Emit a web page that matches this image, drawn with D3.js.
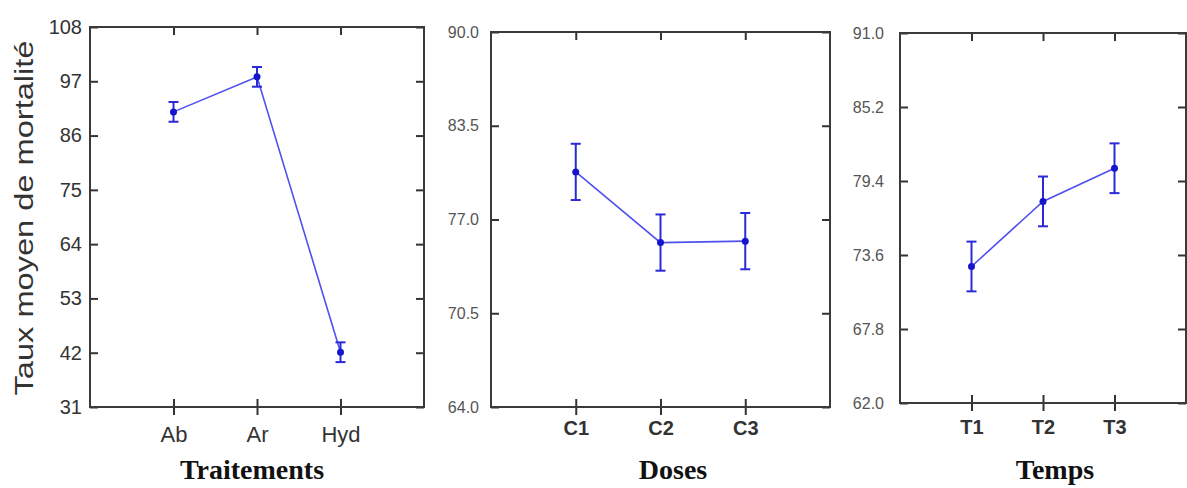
<!DOCTYPE html>
<html>
<head>
<meta charset="utf-8">
<script src="https://cdn.jsdelivr.net/npm/d3@7"></script>
<style>
  body { margin: 0; background: #fff; }
  svg { display: block; }
</style>
</head>
<body>
<div id="chart"></div>
<script>
// Panel 1 - Traitements
const treatCats = ["Ab", "Ar", "Hyd"];
const treatMeans = [90.8, 97.9, 42.1];
const treatErr = [2.0, 2.0, 2.0];
const treatTicks = [31, 42, 53, 64, 75, 86, 97, 108];

// Panel 2 - Doses
const doseCats = ["C1", "C2", "C3"];
const doseMeans = [80.3, 75.4, 75.5];
const doseErr = [1.95, 1.95, 1.95];
const doseTicks = [64.0, 70.5, 77.0, 83.5, 90.0];

// Panel 3 - Temps
const timeCats = ["T1", "T2", "T3"];
const timeMeans = [72.7, 77.8, 80.4];
const timeErr = [1.95, 1.95, 1.95];
const timeTicks = [62.0, 67.8, 73.6, 79.4, 85.2, 91.0];

const width = 1187, height = 488;
const sans = "'Liberation Sans', Arial, sans-serif";
const serif = "'Liberation Serif', 'Times New Roman', serif";

const svg = d3.select('#chart')
    .append('svg')
    .attr('width', width)
    .attr('height', height);

const panels = [
    {
        cats: treatCats, means: treatMeans, err: treatErr, ticks: treatTicks,
        fmt: d3.format('d'), title: 'Traitements',
        left: 90, right: 424, top: 27, bottom: 407,
        tickFont: 20, tickPad: 8, tickColor: '#333',
        catFont: 22, catBold: false, catBase: 35, titleX: 252
    },
    {
        cats: doseCats, means: doseMeans, err: doseErr, ticks: doseTicks,
        fmt: d3.format('.1f'), title: 'Doses',
        left: 491, right: 830, top: 32, bottom: 407,
        tickFont: 16, tickPad: 12, tickColor: '#555',
        catFont: 20, catBold: true, catBase: 28, titleX: 673
    },
    {
        cats: timeCats, means: timeMeans, err: timeErr, ticks: timeTicks,
        fmt: d3.format('.1f'), title: 'Temps',
        left: 900, right: 1186, top: 33, bottom: 403,
        tickFont: 16, tickPad: 16, tickColor: '#555',
        catFont: 20, catBold: true, catBase: 31, titleX: 1055
    }
];

panels.forEach(p => {
    const x = d3.scaleLinear().domain([0, 4]).range([p.left, p.right]);
    const y = d3.scaleLinear()
        .domain([p.ticks[0], p.ticks[p.ticks.length - 1]])
        .range([p.bottom, p.top]);
    const idx = [1, 2, 3];

    const g = svg.append('g');

    // Left axis: labels outside, ticks inward
    const left = g.append('g')
        .attr('transform', `translate(${p.left},0)`)
        .call(d3.axisLeft(y).tickValues(p.ticks).tickFormat(p.fmt)
            .tickSize(-8).tickPadding(p.tickPad));
    left.selectAll('text')
        .style('font-family', sans)
        .style('font-size', p.tickFont + 'px')
        .attr('fill', p.tickColor);

    // Right axis: inward ticks only
    g.append('g')
        .attr('transform', `translate(${p.right},0)`)
        .call(d3.axisRight(y).tickValues(p.ticks).tickFormat('').tickSize(-8));

    // Top axis: inward ticks at categories
    g.append('g')
        .attr('transform', `translate(0,${p.top})`)
        .call(d3.axisTop(x).tickValues(idx).tickFormat('').tickSize(-8));

    // Bottom axis: ticks crossing the frame, category labels
    const bottom = g.append('g')
        .attr('transform', `translate(0,${p.bottom})`)
        .call(d3.axisBottom(x).tickValues(idx).tickFormat(i => p.cats[i - 1]).tickSize(8));
    bottom.selectAll('line').attr('y1', -8).attr('y2', 8);
    bottom.selectAll('text')
        .attr('y', p.catBase)
        .attr('dy', 0)
        .style('font-family', sans)
        .style('font-size', p.catFont + 'px')
        .style('font-weight', p.catBold ? 'bold' : 'normal')
        .attr('fill', '#333');

    g.selectAll('.domain').remove();
    g.selectAll('.tick line')
        .attr('stroke', '#333')
        .attr('stroke-width', 2);

    // Frame
    g.append('rect')
        .attr('x', p.left)
        .attr('y', p.top)
        .attr('width', p.right - p.left)
        .attr('height', p.bottom - p.top)
        .attr('fill', 'none')
        .attr('stroke', '#3a3a3a')
        .attr('stroke-width', 2);

    // Connecting line
    g.append('path')
        .datum(p.means)
        .attr('fill', 'none')
        .attr('stroke', '#5050ee')
        .attr('stroke-width', 1.6)
        .attr('d', d3.line().x((d, i) => x(i + 1)).y(d => y(d)));

    // Error bars
    const eb = g.append('g')
        .attr('stroke', '#2a2ad8')
        .attr('stroke-width', 2);
    p.means.forEach((m, i) => {
        const cx = x(i + 1);
        const y0 = y(m - p.err[i]), y1 = y(m + p.err[i]);
        eb.append('line').attr('x1', cx).attr('x2', cx).attr('y1', y0).attr('y2', y1);
        eb.append('line').attr('x1', cx - 5).attr('x2', cx + 5).attr('y1', y0).attr('y2', y0);
        eb.append('line').attr('x1', cx - 5).attr('x2', cx + 5).attr('y1', y1).attr('y2', y1);
    });

    // Mean markers
    g.append('g')
        .selectAll('circle')
        .data(p.means)
        .enter().append('circle')
        .attr('cx', (d, i) => x(i + 1))
        .attr('cy', d => y(d))
        .attr('r', 3.5)
        .attr('fill', '#1515cc');

    // Panel title
    g.append('text')
        .attr('x', p.titleX)
        .attr('y', 479)
        .attr('text-anchor', 'middle')
        .style('font-family', serif)
        .style('font-size', '28px')
        .style('font-weight', 'bold')
        .attr('fill', '#111')
        .text(p.title);
});

// Y axis title
svg.append('text')
    .attr('transform', 'translate(33,218) rotate(-90)')
    .attr('text-anchor', 'middle')
    .attr('textLength', 355)
    .attr('lengthAdjust', 'spacingAndGlyphs')
    .style('font-family', sans)
    .style('font-size', '25px')
    .attr('fill', '#333')
    .text('Taux moyen de mortalité');
</script>
</body>
</html>
